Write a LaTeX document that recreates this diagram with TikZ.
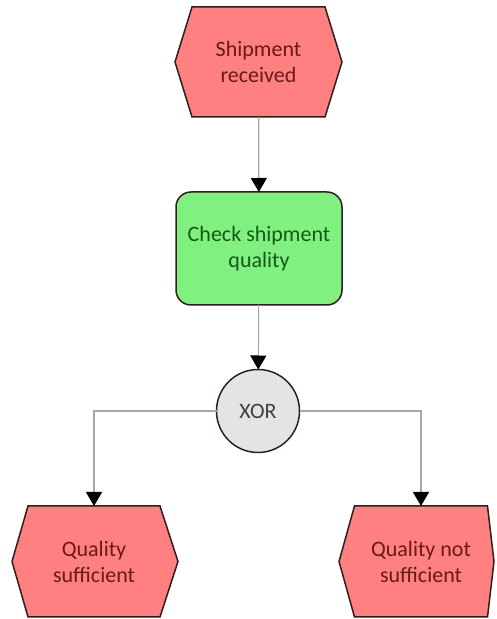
\documentclass[tikz,border=0pt]{standalone}
\usepackage{fontspec}
\setmainfont{Carlito}
\usetikzlibrary{arrows.meta,backgrounds}
\definecolor{evfill}{HTML}{FF8080}
\definecolor{fnfill}{HTML}{80F080}
\definecolor{xrfill}{HTML}{E4E4E4}
\definecolor{bord}{HTML}{2E1E1E}
\definecolor{evtext}{HTML}{6A1818}
\definecolor{fntext}{HTML}{145A14}
\definecolor{xrtext}{HTML}{404040}
\definecolor{lncol}{HTML}{A8A8A8}
\tikzset{
  txt/.style={font=\fontsize{22}{26}\selectfont, align=center, inner sep=0pt, outer sep=0pt},
  evtxt/.style={txt, text=evtext, minimum width=133pt, minimum height=110pt},
  evshape/.style={fill=evfill, draw=bord, line width=1.5pt, line join=miter},
  fnbox/.style={txt, text=fntext, fill=fnfill, draw=bord, line width=1.5pt, rounded corners=15pt, minimum width=166pt, minimum height=113pt},
  xrbox/.style={txt, text=xrtext, circle, fill=xrfill, draw=bord, line width=1.5pt, minimum size=83pt},
  conn/.style={draw=lncol, line width=1.2pt, -{Triangle[width=16pt,length=14pt,color=black]}},
}
\begin{document}
\begin{tikzpicture}[x=1pt,y=1pt]
\useasboundingbox (0,0) rectangle (496,619);
\node[evtxt] (e1) at (258.5,557) {Shipment\\received};
\node[fnbox] (f1) at (259,370.5) {Check shipment\\quality};
\node[xrbox] (x1) at (258,208) {XOR};
\node[evtxt, minimum width=132pt, minimum height=111pt] (e2) at (94,57.5) {Quality\\sufficient};
\node[evtxt, minimum width=133pt, minimum height=111pt] (e3) at (421,57.5) {Quality not\\sufficient};
\begin{pgfonlayer}{background}
\draw[evshape] (e1.north west) -- (e1.north east) -- ([xshift=17pt]e1.east) -- (e1.south east) -- (e1.south west) -- ([xshift=-17pt]e1.west) -- cycle;
\draw[evshape] (e2.north west) -- (e2.north east) -- ([xshift=18pt]e2.east) -- (e2.south east) -- (e2.south west) -- ([xshift=-16pt]e2.west) -- cycle;
\draw[evshape] (e3.north west) -- (e3.north east) -- ([xshift=6.5pt]e3.east) -- (e3.south east) -- (e3.south west) -- ([xshift=-15.5pt]e3.west) -- cycle;
\end{pgfonlayer}
\draw[conn] (e1) -- (f1);
\draw[conn] (f1) -- (x1);
\draw[conn] (x1.west) -| (e2.north);
\draw[conn] (x1.east) -| (e3.north);
\end{tikzpicture}
\end{document}
